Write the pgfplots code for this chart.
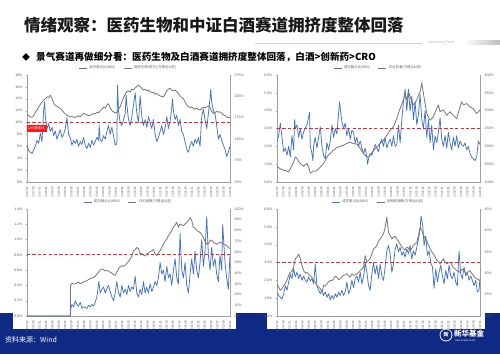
\documentclass[border=0pt]{standalone}
\usepackage{pgfplots}
\pgfplotsset{compat=1.18}
\usepackage{fontspec}
\setmainfont{Liberation Sans}
\newfontfamily\cjk{Noto Sans CJK SC}
\definecolor{sblue}{HTML}{4472C4}
\definecolor{sgray}{HTML}{767676}
\definecolor{axgray}{HTML}{A0A0A0}
\definecolor{lblgray}{HTML}{595959}
\definecolor{navy}{HTML}{0F2A85}
\definecolor{dred}{HTML}{FF1A1A}
\pgfplotsset{
  base/.style={scale only axis, width=203pt, height=107pt, xmin=0, xmax=122,
    axis line style={draw=axgray, line width=0.4pt},
    tick style={draw=axgray, line width=0.3pt}, major tick length=1.2pt, tick align=outside,
    ticklabel style={font=\fontsize{3.5}{4}\selectfont, text=lblgray},
    /pgf/number format/assume math mode=true},
  leftax/.style={base, axis x line*=bottom, axis y line*=left,
    xtick={0,3.8125,7.625,11.4375,15.25,19.0625,22.875,26.6875,30.5,34.3125,38.125,41.9375,45.75,49.5625,53.375,57.1875,61,64.8125,68.625,72.4375,76.25,80.0625,83.875,87.6875,91.5,95.3125,99.125,102.9375,106.75,110.5625,114.375,118.1875,122},
    xticklabels={2017/07,2017/09,2017/11,2018/01,2018/03,2018/05,2018/07,2018/09,2018/11,2019/01,2019/03,2019/05,2019/07,2019/09,2019/11,2020/01,2020/03,2020/05,2020/07,2020/09,2020/11,2021/01,2021/03,2021/05,2021/07,2021/09,2021/11,2022/01,2022/03,2022/05,2022/07,2022/09,2022/11},
    xticklabel style={rotate=90, anchor=east, font=\fontsize{2.9}{3.2}\selectfont}},
  rightax/.style={base, axis x line=none, axis y line*=right,
    legend style={at={(0.5,1)}, anchor=south, yshift=2.5pt, draw=none, fill=none, inner sep=0pt,
      legend columns=2, font=\cjk\fontsize{3.4}{4}\selectfont, text=lblgray,
      /tikz/every even column/.append style={column sep=6pt}},
    legend image code/.code={\draw[##1] (0pt,0pt) -- (8pt,0pt);}},
  bl/.style={color=sblue, line width=0.75pt, line join=round},
  gl/.style={color=sgray, line width=0.8pt, line join=round},
  rl/.style={color=dred, line width=0.9pt, dash pattern=on 3.2pt off 2.2pt},
}
\begin{document}
\begin{tikzpicture}[x=1pt,y=1pt]
\fill[white] (0,0) rectangle (500,354);
\useasboundingbox (0,0) rectangle (500,354);
\fill[navy] (0,0) rectangle (500,41);
\fill[white] (13,25) rectangle (236,160);
\fill[white] (267,25) rectangle (485,160);
% header
\node[anchor=west, inner sep=0, font=\cjk\bfseries\fontsize{16.5}{18}\selectfont, text=black!90] at (24,329) {情绪观察：医药生物和中证白酒赛道拥挤度整体回落};
\draw[black!18, line width=0.5pt] (255,311) -- (422,311);
\node[anchor=west, inner sep=0, font=\fontsize{3.5}{4}\selectfont, text=black!30] at (428,312) {New China Fund};
\shade[left color=white, right color=black!25] (463,309.5) rectangle (500,313.5);
\node[anchor=west, inner sep=0, font=\cjk\fontsize{8}{9}\selectfont] at (22,297) {◆};
\node[anchor=west, inner sep=0, font=\cjk\bfseries\fontsize{9.6}{11}\selectfont] at (36,297) {景气赛道再做细分看：医药生物及白酒赛道拥挤度整体回落，白酒>创新药>CRO};
% footer
\node[anchor=west, inner sep=0, font=\cjk\fontsize{7}{8}\selectfont, text=white] at (5,14) {资料来源：Wind};
\draw[white, line width=0.8pt] (446,19) circle (6);
\node[inner sep=0, font=\cjk\bfseries\fontsize{5}{6}\selectfont, text=white] at (446,19) {新};
\node[anchor=west, inner sep=0, font=\cjk\bfseries\fontsize{7.5}{8}\selectfont, text=white] at (454,20) {新华基金};
\node[anchor=west, inner sep=0, font=\fontsize{2.3}{3}\selectfont, text=white] at (455,13) {NEW CHINA FUND};

% ---------- Panel 1 ----------
\begin{axis}[leftax, at={(27pt,172pt)}, anchor=south west, ymin=0, ymax=18, ytick={0,2,...,18},
  yticklabel={\pgfmathprintnumber[fixed,precision=0]{\tick}\%}]
\addplot[bl] coordinates {(0,6.2)(1,5.3)(2,5.0)(3,4.8)(4,5.4)(5,6.0)(6,7.0)(7,6.5)(8,8.2)(9,6.8)(10,12.0)(10.6,13.5)(11,11.0)(12,9.0)(13,9.8)(14,8.5)(15,9.2)(16,7.8)(17,8.6)(18,7.2)(19,8.0)(20,8.8)(21,7.5)(22,8.0)(23,9.0)(24,10.8)(25,8.0)(26,7.5)(27,6.2)(28,7.0)(29,6.5)(30,7.2)(31,6.0)(32,6.8)(33,6.3)(34,7.5)(35,6.2)(36,5.6)(37,6.5)(38,5.8)(39,7.0)(40,6.2)(41,6.8)(42,7.5)(43,7.0)(43.4,9.5)(44,7.0)(45,6.8)(46,7.8)(47,7.2)(48,8.5)(49,9.5)(50,8.0)(51,9.2)(52,7.8)(53,6.2)(54,6.5)(54.4,16.3)(55,12.0)(56,10.0)(57,9.5)(58,10.5)(59,11.5)(59.6,14.6)(60,13.0)(61,10.5)(62,9.5)(63,11.0)(64,13.0)(65,15.0)(66,11.5)(67,10.0)(68,14.5)(69,11.0)(70,9.5)(71,10.5)(72,9.2)(73,11.0)(74,10.0)(75,9.0)(76,10.5)(77,8.0)(78,6.8)(79,7.5)(80,8.5)(81,9.5)(82,8.0)(83,9.0)(84,11.0)(85,9.0)(86,10.2)(87,12.5)(87.4,14.0)(88,12.0)(89,10.5)(90,11.2)(91,9.5)(92,10.5)(93,8.5)(94,8.0)(95,6.8)(96,5.5)(97,5.0)(98,6.2)(99,6.8)(100,6.0)(101,7.2)(102,6.5)(103,7.5)(104,6.0)(105,11.0)(106,12.2)(107,10.5)(108,9.0)(109,11.5)(110,14.0)(110.4,15.6)(111,13.5)(112,12.0)(113,11.5)(114,9.5)(115,7.2)(116,8.0)(117,7.0)(118,6.2)(119,5.5)(120,4.3)(121,5.0)(122,6.0)};
\addplot[rl] coordinates {(0,10) (122,10)};
\node[fill=dred, text=white, font=\cjk\fontsize{3.2}{4}\selectfont, inner sep=0.5pt, minimum width=22pt, minimum height=7pt, anchor=north west, xshift=-2pt] at (axis cs:0,9.7) {10\%警戒线};
\end{axis}
\begin{axis}[rightax, at={(27pt,172pt)}, anchor=south west, ymin=25, ymax=275, ytick={25,75,...,275},
  yticklabel={\pgfmathprintnumber[fixed,precision=0]{\tick}\%}]
\addlegendimage{bl}\addlegendentry{成交额占比(MA5)}
\addplot[gl] coordinates {(0,184)(1,180)(2,177)(3,176)(4,180)(5,188)(6,193)(7,200)(8,206)(9,212)(10,216)(11,220)(12,224)(13,222)(14,228)(15,220)(16,209)(17,204)(18,202)(19,199)(20,197)(21,193)(22,188)(23,184)(24,181)(25,179)(26,177)(27,178)(28,177)(29,176)(30,178)(31,180)(32,177)(33,182)(34,185)(35,184)(36,182)(37,180)(38,181)(39,183)(40,185)(41,184)(42,188)(43,187)(44,191)(45,195)(46,200)(47,198)(48,205)(49,208)(50,198)(51,192)(52,189)(53,186)(54,188)(55,195)(56,201)(57,212)(58,222)(59,230)(60,236)(61,238)(62,235)(63,242)(64,240)(65,245)(66,248)(67,252)(68,248)(69,244)(70,240)(71,242)(72,238)(73,240)(74,236)(75,234)(76,235)(77,230)(78,232)(79,228)(80,226)(81,225)(82,224)(83,230)(84,238)(85,242)(86,244)(87,240)(88,238)(89,240)(90,236)(91,232)(92,226)(93,222)(94,220)(95,212)(96,205)(97,201)(98,199)(99,200)(100,197)(101,195)(102,198)(103,194)(104,193)(105,196)(106,200)(107,198)(108,201)(109,203)(110,199)(111,190)(112,185)(113,187)(114,190)(115,188)(116,189)(117,186)(118,182)(119,180)(120,177)(121,175)(122,176)};
\addlegendentry{医药生物(申万)/万得全A(右)}
\end{axis}

% ---------- Panel 2 ----------
\begin{axis}[leftax, at={(277pt,172pt)}, anchor=south west, ymin=0, ymax=6, ytick={0,1,...,6},
  yticklabel={\pgfmathprintnumber[fixed,precision=1,fixed zerofill]{\tick}\%}]
\addplot[bl] coordinates {(0,2.3)(1,2.6)(2,3.3)(3,2.5)(4,1.7)(5,1.9)(6,1.5)(7,2.0)(8,1.4)(9,2.6)(10,1.8)(10.6,3.5)(11,3.0)(12,3.2)(13,2.5)(14,3.0)(15,2.4)(16,2.8)(17,3.0)(18,3.2)(19.6,3.9)(20,2.0)(21,1.6)(21.6,1.2)(22,2.0)(23,2.5)(24,1.9)(25,2.5)(26,3.1)(27,2.0)(28,1.5)(29,1.3)(30,2.2)(31,1.8)(32,2.3)(33,3.2)(34,2.5)(35,3.0)(36,2.7)(37.6,4.5)(38.4,3.8)(39,3.4)(40,3.0)(41,3.3)(42,2.6)(43,3.0)(44,2.4)(45,2.9)(46,2.8)(47,2.2)(48,2.5)(49,2.0)(50,2.3)(51,1.9)(52,1.6)(53,1.9)(54,1.4)(54.4,1.0)(55,1.3)(56,1.6)(57,1.5)(58,1.8)(59,2.1)(60,1.9)(61,1.7)(62,2.2)(63,2.4)(64,2.0)(65,2.5)(66,1.9)(67,2.2)(68,2.4)(69,2.0)(70,2.6)(71,2.0)(72,2.1)(73,3.2)(74,2.2)(75,3.5)(76,4.5)(77,5.2)(78,4.0)(79,5.2)(80,4.0)(81,4.8)(82,3.5)(83,4.5)(84,3.2)(85,3.8)(86,4.9)(87,3.5)(88,3.0)(89,4.0)(90,2.5)(91,3.5)(92,2.2)(93,3.2)(94,1.8)(95,2.6)(96,2.2)(97,2.8)(98,3.6)(99,2.4)(100,2.0)(101,2.6)(102,1.9)(103,2.8)(104,2.2)(105,1.8)(106,2.5)(107,2.0)(108,2.6)(109,1.9)(110,2.3)(111,2.1)(112,2.0)(113,2.2)(114,1.8)(115,2.0)(116,1.6)(117,1.4)(118,1.3)(119,1.2)(120,1.4)(121,2.3)(122,2.1)};
\addplot[rl] coordinates {(0,3) (122,3)};
\end{axis}
\begin{axis}[rightax, at={(277pt,172pt)}, anchor=south west, ymin=100, ymax=400, ytick={100,150,...,400},
  yticklabel={\pgfmathprintnumber[fixed,precision=0]{\tick}\%}]
\addlegendimage{bl}\addlegendentry{成交额占比(MA5)}
\addplot[gl] coordinates {(0,144)(1,140)(2,137)(3,135)(4,133)(5,132)(6,131)(7,128)(8,137)(9,146)(10,156)(11,170)(12,166)(13,158)(14,152)(15,148)(16,144)(17,148)(18,152)(19,142)(20,125)(21,128)(22,131)(23,130)(24,133)(25,137)(26,142)(27,147)(28,152)(29,160)(30,170)(31,176)(32,180)(33,185)(34,189)(35,193)(36,197)(37,198)(38,200)(39,202)(40,203)(41,206)(42,208)(43,210)(44,212)(45,209)(46,208)(47,207)(48,206)(49,200)(50,194)(51,186)(52,180)(53,175)(54,170)(55,172)(56,175)(57,182)(58,189)(59,194)(60,198)(61,203)(62,208)(63,212)(64,217)(65,224)(66,231)(67,238)(68,245)(69,250)(70,255)(71,266)(72,278)(73,292)(74,306)(75,318)(76,330)(77,348)(78,330)(79,353)(80,339)(81,328)(82,316)(83,322)(84,330)(85,342)(86,353)(87,378)(88,348)(89,320)(90,292)(91,282)(92,273)(93,278)(94,283)(95,295)(96,306)(97,316)(98,297)(99,300)(100,302)(101,295)(102,287)(103,292)(104,297)(105,292)(106,287)(107,282)(108,278)(109,295)(110,311)(111,325)(112,316)(113,318)(114,320)(115,315)(116,311)(117,308)(118,306)(119,298)(120,292)(121,297)(122,302)};
\addlegendentry{中证白酒/万得全A(右)}
\end{axis}

% ---------- Panel 3 ----------
\begin{axis}[leftax, at={(27pt,38pt)}, anchor=south west, ymin=0, ymax=1.4, ytick={0,0.2,0.4,0.6,0.8,1.0,1.2,1.4},
  yticklabel={\pgfmathprintnumber[fixed,precision=1,fixed zerofill]{\tick}\%}]
\addplot[bl] coordinates {(0,0)(26,0)(26.4,0.1)(27,0.15)(28,0.12)(29,0.2)(30,0.15)(31,0.13)(32,0.18)(33,0.1)(34,0.12)(35,0.11)(36,0.1)(37,0.14)(38,0.12)(39,0.15)(40,0.13)(41,0.18)(42,0.25)(43.2,0.45)(44,0.3)(45,0.35)(46,0.38)(47,0.3)(48,0.36)(49,0.4)(50,0.32)(51,0.25)(52,0.2)(53,0.3)(54,0.45)(55,0.3)(56,0.25)(57,0.4)(58,0.3)(59,0.35)(60,0.28)(61,0.4)(62,0.32)(63,0.38)(64,0.35)(65,0.52)(66,0.3)(67,0.25)(68,0.35)(69,0.28)(70,0.45)(71,0.3)(72,0.38)(73,0.3)(74,0.42)(75,0.32)(76,0.38)(77,0.45)(78,0.4)(79,0.5)(80,0.7)(81,0.55)(82,0.6)(83,0.45)(84,0.65)(85,0.5)(86,0.55)(87,0.4)(88,0.6)(89,0.75)(90,0.5)(91,0.42)(92,1.08)(93,0.6)(94,0.5)(95,0.7)(96,0.4)(97,0.3)(98,0.55)(99,0.75)(100,0.55)(101,0.85)(102,0.6)(103,0.5)(104,0.7)(105,1.0)(106,0.65)(107,0.85)(108,1.3)(109,0.8)(110,0.6)(111,0.9)(112,0.65)(113,0.75)(114,0.55)(115,0.45)(116,0.8)(117,0.6)(117.6,1.2)(119,0.7)(120,0.5)(121,0.35)(122,0.8)};
\addplot[rl] coordinates {(0,0.8) (122,0.8)};
\end{axis}
\begin{axis}[rightax, at={(27pt,38pt)}, anchor=south west, ymin=0, ymax=100, ytick={0,10,...,100},
  yticklabel={\pgfmathprintnumber[fixed,precision=0]{\tick}\%}]
\addlegendimage{bl}\addlegendentry{成交额占比(MA5)}
\addplot[gl] coordinates {(0,0)(26,0)(26.2,29)(27,30.5)(28,30)(29,30)(30,31)(31,31.5)(32,30)(33,31)(34,32)(35,32.5)(36,33)(37,34)(38,35)(39,35.5)(40,36)(41,37)(42,39)(43,41)(44,43)(45,44)(46,43.5)(47,42)(48,42.5)(49,42)(50,41)(51,40)(52,38.5)(53,38)(54,41)(55,44)(56,46)(57,47)(58,46.5)(59,47.5)(60,49)(61,51)(62,53)(63,56)(64,61)(65,62)(66,64)(67,63)(68,58)(69,58.5)(70,57)(71,56)(72,58)(73,59)(74,60)(75,61)(76,62)(77,58)(78,56.5)(79,59)(80,61)(81,64)(82,67)(83,70)(84,72)(85,75)(86,77)(87,80)(88,83)(89,85)(90,87.5)(91,83)(92,86)(93,85)(94,84.5)(95,86)(96,87.5)(97,89)(98,92)(99,89)(100,83)(101,82)(102,80)(103,79)(104,78)(105,76)(106,73.5)(107,70)(108,67)(109,68)(110,70.5)(111,71)(112,69)(113,68)(114,67)(115,68)(116,69)(117,68.5)(118,67)(119,66.5)(120,66)(121,64)(122,63)};
\addlegendentry{CRO指数/万得全A(右)}
\end{axis}

% ---------- Panel 4 ----------
\begin{axis}[leftax, at={(277pt,38pt)}, anchor=south west, ymin=0, ymax=6, ytick={0,1,...,6},
  yticklabel={\pgfmathprintnumber[fixed,precision=1,fixed zerofill]{\tick}\%}]
\addplot[bl] coordinates {(0,1.35)(1,1.15)(2,1.05)(3,0.95)(4,1.25)(5,1.7)(6,1.45)(7,1.9)(8,2.35)(9,2.1)(10,2.65)(11,2.2)(12,2.45)(13,2.1)(14,2.35)(15,2.0)(16,2.25)(17,2.0)(18,1.9)(19,2.2)(20,1.95)(21,2.1)(22,1.8)(23,2.9)(24,1.7)(25,1.45)(26,1.25)(27,1.45)(28,1.15)(29,1.35)(30,1.05)(31,1.25)(32,0.9)(33,1.15)(34,0.95)(35,1.25)(36,1.05)(37,1.35)(38,1.15)(39,1.45)(40,1.15)(41,1.35)(42,1.9)(43,1.25)(44,1.5)(45,2.0)(46,1.6)(47,2.1)(48,2.25)(49,1.9)(50,2.45)(51,1.8)(52,2.2)(53,3.0)(54,2.45)(55,1.7)(56,1.45)(57,2.35)(58,3.0)(59,2.35)(60,2.85)(61,2.1)(62,2.9)(63,2.25)(64,2.0)(65,2.75)(66,3.65)(67,3.95)(68,3.5)(69,2.45)(70,2.9)(71,3.75)(72,4.05)(73,3.6)(74,3.85)(75,3.4)(76,3.6)(77,3.3)(78,3.75)(79,3.5)(80,3.95)(81,3.2)(82,3.65)(83,3.4)(84,3.85)(85,4.3)(86,4.9)(86.6,5.6)(87.6,5.05)(88.4,3.95)(89.4,4.5)(90.4,3.4)(91.4,3.65)(92.4,3.0)(93.4,2.75)(94.4,1.55)(95.4,2.65)(96.4,1.9)(97.4,2.45)(98.4,2.85)(99.4,2.25)(100.4,1.8)(101.4,2.55)(102.4,2.1)(103.4,2.85)(104.4,2.25)(105.4,2.1)(106.4,2.45)(107.4,1.9)(108.4,1.7)(109.4,3.65)(110.4,2.35)(111.4,2.1)(112.4,2.75)(113.4,2.25)(114.4,2.45)(115.4,2.0)(116.4,2.25)(117.4,2.0)(118.4,1.7)(119.4,2.0)(120.4,1.35)(121.4,1.45)(122,2.1)};
\addplot[rl] coordinates {(0,3) (122,3)};
\end{axis}
\begin{axis}[rightax, at={(277pt,38pt)}, anchor=south west, ymin=20, ymax=45, ytick={20,25,...,45},
  yticklabel={\pgfmathprintnumber[fixed,precision=0]{\tick}\%}]
\addlegendimage{bl}\addlegendentry{成交额占比(MA5)}
\addplot[gl] coordinates {(0,27.5)(1,26.8)(2,26.0)(3,26.4)(4,27.1)(5,27.6)(6,28.3)(7,29.5)(8,30.2)(9,30.5)(10,31.4)(11,33.4)(12,33.7)(13,34.5)(14,33.4)(15,31.8)(16,30.6)(17,30.0)(18,30.2)(19,29.8)(20,29.5)(21,29.0)(22,28.3)(23,27.9)(24,27.1)(25,26.8)(26,26.4)(27,25.6)(28,27.1)(29,27.0)(30,27.5)(31,28.0)(32,28.3)(33,28.2)(34,28.7)(35,29.3)(36,29.1)(37,28.5)(38,28.7)(39,29.2)(40,29.5)(41,29.6)(42,29.9)(43,29.4)(44,29.1)(45,29.8)(46,29.5)(47,29.6)(48,29.9)(49,30.2)(50,30.6)(51,31.0)(52,31.4)(53,34.1)(54,32.6)(55,33.0)(56,33.4)(57,34.5)(58,35.7)(59,36.0)(60,36.5)(61,37.5)(62,38.0)(63,38.6)(64,39.2)(65,40.7)(66,43.1)(67,39.6)(68,38.8)(69,38.0)(70,38.4)(71,38.6)(72,38.0)(73,37.4)(74,36.8)(75,36.2)(76,35.7)(77,35.4)(78,36.1)(79,35.9)(80,35.3)(81,35.8)(82,36.5)(83,36.9)(84,37.2)(85,38.8)(86,40.7)(87,40.0)(88,38.8)(89,38.2)(90,37.6)(91,36.6)(92,35.7)(93,35.0)(94,34.5)(95,33.8)(96,33.0)(97,32.8)(98,32.2)(99,32.8)(100,33.4)(101,32.6)(102,32.2)(103,32.4)(104,32.6)(105,32.0)(106,31.4)(107,31.0)(108,30.6)(109,30.4)(110,30.2)(111,30.8)(112,31.0)(113,30.2)(114,29.9)(115,30.4)(116,30.6)(117,30.0)(118,29.5)(119,29.0)(120,28.7)(121,28.5)(122,28.3)};
\addlegendentry{创新药指数/万得全A(右)}
\end{axis}
\end{tikzpicture}
\end{document}
